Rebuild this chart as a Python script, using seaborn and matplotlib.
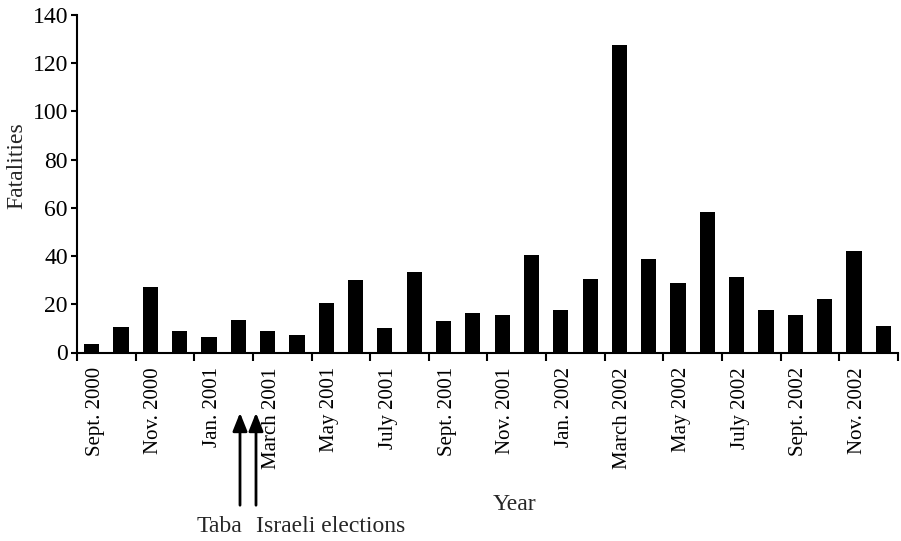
import matplotlib
matplotlib.use("Agg")
import matplotlib.pyplot as plt
from matplotlib.patches import FancyArrowPatch
from matplotlib.ticker import FixedLocator
import pandas as pd
import seaborn as sns


# monthly fatalities, Sept. 2000 .. Dec. 2002
MONTHS = [
    "2000-09", "2000-10", "2000-11", "2000-12",
    "2001-01", "2001-02", "2001-03", "2001-04", "2001-05", "2001-06",
    "2001-07", "2001-08", "2001-09", "2001-10", "2001-11", "2001-12",
    "2002-01", "2002-02", "2002-03", "2002-04", "2002-05", "2002-06",
    "2002-07", "2002-08", "2002-09", "2002-10", "2002-11", "2002-12",
]
FATALITIES = [
    3.5, 10.5, 27, 9, 6.3, 13.3, 8.8, 7.4, 20.7, 30,
    10, 33.4, 13.2, 16.4, 15.4, 40.4, 17.7, 30.6, 127.7, 38.7,
    28.7, 58.3, 31.2, 17.8, 15.4, 22.3, 42, 11.2,
]
TICK_LABELS = [
    "Sept. 2000", "Nov. 2000", "Jan. 2001", "March 2001", "May 2001",
    "July 2001", "Sept. 2001", "Nov. 2001", "Jan. 2002", "March 2002",
    "May 2002", "July 2002", "Sept. 2002", "Nov. 2002",
]
Y_TICKS = [0, 20, 40, 60, 80, 100, 120, 140]

W, H = 901, 541


def main() -> None:
    sns.set_theme(style="ticks")
    plt.rcParams["font.family"] = ["Liberation Serif", "DejaVu Serif"]
    plt.rcParams["font.size"] = 17

    df = pd.DataFrame({"month": MONTHS, "fatalities": FATALITIES})

    fig = plt.figure(figsize=(W / 100, H / 100), dpi=100)
    ax = fig.add_axes([77 / W, 1 - 352.5 / H, 821 / W, 337.5 / H])

    sns.barplot(data=df, x="month", y="fatalities", color="black",
                saturation=1, width=0.52, linewidth=0, ax=ax)

    n = len(MONTHS)
    ax.set_xlim(-0.5, n - 0.5)
    ax.set_ylim(0, 140)
    ax.set_yticks(Y_TICKS)

    # labels near every other month centre, tick marks at the boundaries
    ax.set_xticks([i + 0.12 for i in range(0, n, 2)])
    ax.set_xticklabels(TICK_LABELS, rotation=90, va="top", ha="center")
    ax.xaxis.set_minor_locator(FixedLocator([i - 0.5 for i in range(0, n + 1, 2)]))
    ax.tick_params(axis="x", which="major", length=0, pad=10.5, labelsize=15, colors="black")
    ax.tick_params(axis="x", which="minor", length=6, width=1.5, color="black")
    ax.tick_params(axis="y", length=4.5, width=1.5, pad=2, labelsize=17, colors="black")

    for side in ["top", "right"]:
        ax.spines[side].set_visible(False)
    for side in ["left", "bottom"]:
        ax.spines[side].set_linewidth(1.5)
        ax.spines[side].set_color("black")

    ax.set_xlabel("")
    ax.set_ylabel("Fatalities", fontsize=17, va="center")
    ax.yaxis.set_label_coords(-0.0737, 0.553)

    fig.text(514 / W, 1 - 505 / H, "Year", ha="center", va="center", fontsize=17)

    # event markers below the axis
    for x in [240, 256]:
        fig.add_artist(FancyArrowPatch(
            (x / W, 1 - 508 / H), (x / W, 1 - 410 / H),
            transform=fig.transFigure, arrowstyle="-|>,head_length=0.55,head_width=0.22",
            mutation_scale=20, color="black", lw=2))
    fig.text(219 / W, 1 - 527 / H, "Taba", ha="center", va="center", fontsize=17)
    fig.text(331 / W, 1 - 527 / H, "Israeli elections", ha="center", va="center", fontsize=17)

    fig.savefig("out.png", dpi=100)
    plt.close()


if __name__ == "__main__":
    main()
